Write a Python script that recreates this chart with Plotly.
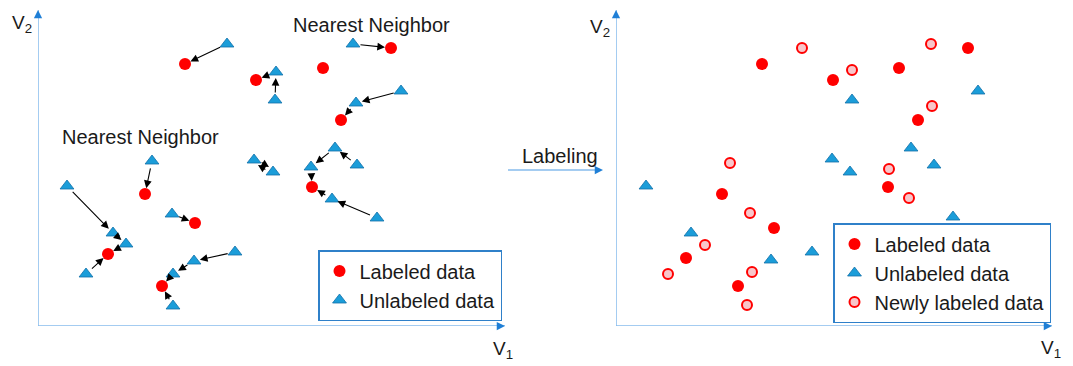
import plotly.graph_objects as go

# page body has an 8px margin: figure covers the window minus that offset
OFF = 8
W, H = 1073 - OFF, 366 - OFF
FONT = "Arial, 'Liberation Sans', sans-serif"

# ---------------- data: left panel (before labeling) ----------------
lab_v1 = [147, 218, 285, 353, 303, 107, 157, 70, 124, 274]
lab_v2 = [262, 246, 258, 278, 206, 132, 103, 72, 40, 139]
unl_v1 = [189, 238, 237, 315, 363, 318, 114, 216, 235, 297, 319, 273,
          29, 75, 88, 48, 134, 197, 156, 135, 135, 294, 339]
unl_v2 = [282, 254, 226, 282, 235, 223, 165, 166, 154, 178, 161, 159,
          140, 93, 82, 52, 112, 74, 65, 52, 20, 127, 108]
# nearest-neighbour links: unlabeled point index -> target ("L" labeled / "U" unlabeled)
nn_src = [0, 1, 2, 3, 4, 5, 6, 7, 8, 10, 9, 11, 12, 13, 14, 15, 16, 17, 18, 19, 20, 21, 22]
nn_dst = ["L0", "L1", "U1", "L3", "U5", "L4", "L5", "U8", "U7", "U9", "U11", "L9",
          "U13", "U14", "L7", "L7", "L6", "U18", "U19", "L8", "L8", "L9", "U21"]

# ---------------- data: right panel (after labeling) ----------------
r_lab_v1 = [146, 217, 283, 352, 302, 106, 158, 70, 122, 272]
r_lab_v2 = [262, 246, 258, 278, 206, 132, 98, 68, 40, 139]
r_unl_v1 = [236, 362, 216, 234, 295, 318, 30, 75, 155, 196, 337]
r_unl_v2 = [226, 235, 167, 154, 178, 161, 140, 93, 66, 74, 109]
r_new_v1 = [186, 315, 236, 316, 114, 273, 134, 89, 52, 136, 131, 293]
r_new_v2 = [278, 282, 256, 220, 163, 157, 113, 81, 52, 54, 21, 128]

# axis extents (same units as data)
L_XMAX, R_XMAX, YMAX = 467, 436, 316

# ---------------- styles ----------------
RED = "#ff0000"
BLUE_T = "#1b9dd9"
BLUE_T_EDGE = "#1170a8"
PINK = "#f8c6ca"
AX_LINE = "#86bbec"
AX_HEAD = "#1f7fd6"
TXT = "#1a1a1a"


def px_x(p):
    return (p - OFF) / W


def px_y(p):
    return 1 - (p - OFF) / H


fig = go.Figure()

lab_marker = dict(symbol="circle", size=12, color=RED, line=dict(width=0))
tri_marker = dict(symbol="triangle-up", size=12, color=BLUE_T, line=dict(width=0.8, color=BLUE_T_EDGE))
new_marker = dict(symbol="circle", size=10, color=PINK, line=dict(width=2, color=RED))

fig.add_trace(go.Scatter(x=lab_v1, y=lab_v2, mode="markers", name="Labeled data",
                         marker=lab_marker, xaxis="x", yaxis="y", legend="legend", cliponaxis=False))
fig.add_trace(go.Scatter(x=unl_v1, y=unl_v2, mode="markers", name="Unlabeled data",
                         marker=tri_marker, xaxis="x", yaxis="y", legend="legend", cliponaxis=False))
fig.add_trace(go.Scatter(x=r_lab_v1, y=r_lab_v2, mode="markers", name="Labeled data",
                         marker=lab_marker, xaxis="x2", yaxis="y2", legend="legend2", cliponaxis=False))
fig.add_trace(go.Scatter(x=r_unl_v1, y=r_unl_v2, mode="markers", name="Unlabeled data",
                         marker=tri_marker, xaxis="x2", yaxis="y2", legend="legend2", cliponaxis=False))
fig.add_trace(go.Scatter(x=r_new_v1, y=r_new_v2, mode="markers", name="Newly labeled data",
                         marker=new_marker, xaxis="x2", yaxis="y2", legend="legend2", cliponaxis=False))

annotations = []
shapes = []

# nearest-neighbour arrows
pairs = set(zip(nn_src, nn_dst))
for s, d in zip(nn_src, nn_dst):
    sx, sy = unl_v1[s], unl_v2[s]
    j = int(d[1:])
    if d[0] == "L":
        tx, ty = lab_v1[j], lab_v2[j]
    else:
        tx, ty = unl_v1[j], unl_v2[j]
    ox = oy = 0.0
    if d[0] == "U" and (j, "U%d" % s) in pairs:
        dx, dy = tx - sx, ty - sy
        n = (dx * dx + dy * dy) ** 0.5
        ox, oy = -dy / n * 2.0, dx / n * 2.0
    annotations.append(dict(x=tx + ox, y=ty + oy, ax=sx + ox, ay=sy + oy,
                            xref="x", yref="y", axref="x", ayref="y",
                            text="", showarrow=True, arrowhead=2, arrowsize=1.4,
                            arrowwidth=1.1, arrowcolor="black", standoff=6, startstandoff=6))

# axes lines with arrowheads
for xr, yr, xmax in (("x", "y", L_XMAX), ("x2", "y2", R_XMAX)):
    shapes.append(dict(type="line", xref=xr, yref=yr, x0=0, y0=0, x1=xmax, y1=0,
                       line=dict(color=AX_LINE, width=1.5), layer="below"))
    shapes.append(dict(type="line", xref=xr, yref=yr, x0=0, y0=0, x1=0, y1=YMAX,
                       line=dict(color=AX_LINE, width=1.5), layer="below"))
    annotations.append(dict(x=xmax, y=0, ax=xmax - 8, ay=0, xref=xr, yref=yr, axref=xr, ayref=yr,
                            text="", showarrow=True, arrowhead=2, arrowsize=1.1, arrowwidth=1.5,
                            arrowcolor=AX_HEAD))
    annotations.append(dict(x=0, y=YMAX, ax=0, ay=YMAX - 8, xref=xr, yref=yr, axref=xr, ayref=yr,
                            text="", showarrow=True, arrowhead=2, arrowsize=1.1, arrowwidth=1.5,
                            arrowcolor=AX_HEAD))

# "Labeling" arrow between panels
shapes.append(dict(type="line", xref="paper", yref="paper", x0=px_x(508), x1=px_x(598),
                   y0=px_y(170), y1=px_y(170), line=dict(color=AX_LINE, width=1.5)))
annotations.append(dict(x=px_x(603), y=px_y(170), xref="paper", yref="paper", ax=-8, ay=0,
                        text="", showarrow=True, arrowhead=2, arrowsize=1.1, arrowwidth=1.5,
                        arrowcolor=AX_HEAD))


def label(text, x, y, size=20, xanchor="center"):
    annotations.append(dict(text=text, x=px_x(x), y=px_y(y), xref="paper", yref="paper",
                            showarrow=False, xanchor=xanchor, yanchor="middle",
                            font=dict(family=FONT, size=size, color=TXT)))


label("Labeling", 560, 156)
label("Nearest Neighbor", 371, 25)
label("Nearest Neighbor", 140, 137)
label("V<sub>2</sub>", 34, 24, size=19, xanchor="right")
label("V<sub>1</sub>", 503, 350, size=19)
label("V<sub>2</sub>", 612, 28, size=19, xanchor="right")
label("V<sub>1</sub>", 1051, 349, size=19)

legend_style = dict(bordercolor="#2f80c9", borderwidth=1.5, bgcolor="white",
                    font=dict(family=FONT, size=20, color=TXT), tracegroupgap=0,
                    itemwidth=30, yanchor="bottom", xanchor="right")

fig.update_layout(
    width=W, height=H, autosize=False,
    margin=dict(l=0, r=0, t=0, b=0),
    paper_bgcolor="white", plot_bgcolor="white",
    showlegend=True,
    xaxis=dict(domain=[px_x(38), px_x(38 + L_XMAX)], range=[0, L_XMAX], visible=False, fixedrange=True),
    yaxis=dict(domain=[px_y(326), px_y(326 - YMAX)], range=[0, YMAX], visible=False, fixedrange=True),
    xaxis2=dict(domain=[px_x(616), px_x(616 + R_XMAX)], range=[0, R_XMAX], visible=False,
                anchor="y2", fixedrange=True),
    yaxis2=dict(domain=[px_y(326), px_y(326 - YMAX)], range=[0, YMAX], visible=False,
                anchor="x2", fixedrange=True),
    legend=dict(x=px_x(502), y=px_y(321), **legend_style),
    legend2=dict(x=px_x(1051), y=px_y(323), **legend_style),
    annotations=annotations,
    shapes=shapes,
)

fig.write_html("out.html")
